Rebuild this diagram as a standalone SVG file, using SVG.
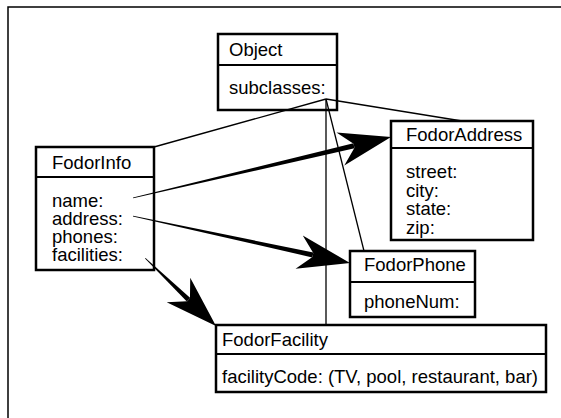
<svg xmlns="http://www.w3.org/2000/svg" width="561" height="418" viewBox="0 0 561 418">
<style>
.box{fill:#fff;stroke:#000;stroke-width:2.5}
.div{stroke:#000;stroke-width:2}
.t{font-family:"Liberation Sans",Arial,sans-serif;font-size:18.5px;fill:#000}
.thin{stroke:#000;stroke-width:1.3;fill:none}
.arr{fill:#000}
</style>
<defs>
<path id="head" d="M0,0 L-52,-17 L-38,-2 L-38,2 L-52,17 Z"/>
</defs>
<rect width="561" height="418" fill="#fff"/>
<path d="M8,418 V7 H561" fill="none" stroke="#000" stroke-width="1.5"/>
<g id="Object">
<rect class="box" x="218" y="34" width="119" height="76"/>
<line class="div" x1="218" y1="65" x2="337" y2="65"/>
<text class="t" x="229" y="56">Object</text>
<text class="t" x="229" y="94">subclasses:</text>
</g>
<g id="FodorInfo">
<rect class="box" x="36" y="147" width="118" height="123"/>
<line class="div" x1="36" y1="177" x2="154" y2="177"/>
<text class="t" x="52" y="169">FodorInfo</text>
<text class="t" x="52" y="207">name:</text>
<text class="t" x="52" y="225">address:</text>
<text class="t" x="52" y="243">phones:</text>
<text class="t" x="52" y="261">facilities:</text>
</g>
<g id="FodorAddress">
<rect class="box" x="391" y="121" width="142" height="119"/>
<line class="div" x1="391" y1="148" x2="533" y2="148"/>
<text class="t" x="406" y="141">FodorAddress</text>
<text class="t" x="406" y="178">street:</text>
<text class="t" x="406" y="197">city:</text>
<text class="t" x="406" y="215">state:</text>
<text class="t" x="406" y="234">zip:</text>
</g>
<g id="FodorPhone">
<rect class="box" x="350" y="251" width="125" height="66"/>
<line class="div" x1="350" y1="282" x2="475" y2="282"/>
<text class="t" x="364" y="271">FodorPhone</text>
<text class="t" x="364" y="308">phoneNum:</text>
</g>
<g id="FodorFacility">
<rect class="box" x="216" y="325" width="330" height="67"/>
<line class="div" x1="216" y1="354" x2="546" y2="354"/>
<text class="t" x="222" y="346">FodorFacility</text>
<text class="t" x="222" y="383">facilityCode: (TV, pool, restaurant, bar)</text>
</g>
<g id="connectors">
<line class="thin" x1="326" y1="99" x2="154" y2="147"/>
<line class="thin" x1="326" y1="99" x2="462" y2="121"/>
<line class="thin" x1="326" y1="99" x2="326" y2="325"/>
<line class="thin" x1="326" y1="99" x2="364" y2="251"/>
<g transform="translate(391,137) rotate(-13.3)">
<path class="arr" d="M-265,-0.4 L-38,-2.5 L-38,2.5 L-265,0.4 Z"/>
<use href="#head"/>
</g>
<g transform="translate(350,263) rotate(12.2)">
<path class="arr" d="M-222,-0.4 L-38,-2.5 L-38,2.5 L-222,0.4 Z"/>
<use href="#head"/>
</g>
<g transform="translate(216,326) rotate(43.8)">
<path class="arr" d="M-98,-0.4 L-38,-2.5 L-38,2.5 L-98,0.4 Z"/>
<use href="#head"/>
</g>
</g>
</svg>
